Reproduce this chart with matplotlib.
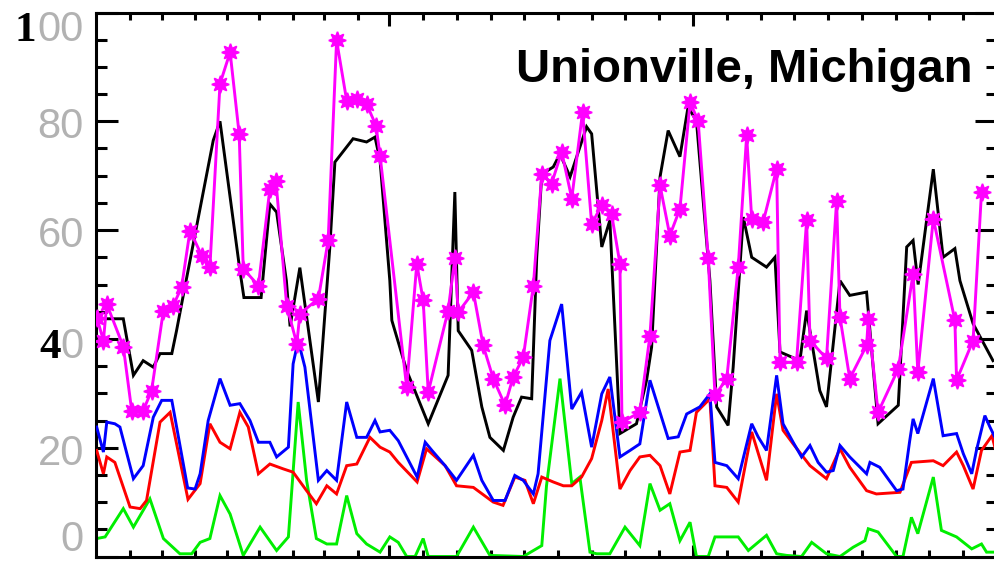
import matplotlib
matplotlib.use("Agg")
import matplotlib.pyplot as plt
from matplotlib.transforms import blended_transform_factory, ScaledTranslation

# ---- data: time in days since start of record, concentrations ----
black_t = [0.02, 0.81, 1.11, 1.40, 1.70, 1.90, 2.25, 2.39, 2.59, 3.48, 3.68, 4.27, 4.39, 4.90,
           5.16, 5.36, 5.65, 5.76, 6.05, 6.60, 6.94, 7.09, 7.63, 8.03, 8.28, 8.43, 8.72, 8.78,
           9.22, 9.86, 10.45, 10.65, 10.75, 11.15, 11.45, 11.69, 12.09, 12.38, 12.63, 12.93,
           13.08, 13.23, 13.57, 13.77, 14.07, 14.56, 14.71, 15.01, 15.25, 15.55, 16.04, 16.34,
           16.49, 16.74, 16.98, 17.33, 17.57, 17.82, 18.22, 18.42, 18.76, 18.91, 19.21, 19.46,
           19.90, 20.15, 20.30, 20.89, 21.09, 21.48, 21.68, 22.08, 22.37, 22.87, 23.21, 23.81,
           24.06, 24.25, 24.40, 24.85, 25.14, 25.49, 25.64, 26.03, 26.62]
black_v = [43.7, 43.7, 33.3, 36.0, 34.8, 37.3, 37.3, 41.5, 48.0, 76.5, 80.0, 52.6, 47.6, 47.6,
           64.8, 63.3, 50.7, 42.3, 53.1, 28.4, 56.9, 72.5, 76.8, 76.2, 77.1, 72.8, 50.7, 43.4,
           34.2, 24.4, 33.3, 67.0, 41.5, 37.9, 27.5, 21.9, 19.5, 25.6, 29.3, 29.0,
           55.0, 70.3, 71.6, 74.0, 69.8, 79.0, 77.7, 56.9, 61.8, 22.6, 24.4, 32.4,
           38.5, 69.8, 78.3, 73.5, 82.6, 80.1, 50.7, 27.5, 24.1, 34.8, 62.4, 55.0,
           53.2, 55.0, 37.6, 36.0, 45.2, 30.5, 27.5, 50.7, 48.0, 48.6, 24.4, 27.8,
           56.9, 58.1, 50.0, 71.2, 55.0, 56.6, 50.7, 42.8, 36.0]

magenta_t = [0.03, 0.22, 0.32, 0.81, 1.06, 1.40, 1.65, 2.00, 2.29, 2.54, 2.79, 3.14, 3.38,
             3.68, 3.98, 4.25, 4.37, 4.82, 5.16, 5.34, 5.66, 5.96, 6.05, 6.60, 6.89, 7.14,
             7.44, 7.74, 8.03, 8.31, 8.43, 9.22, 9.52, 9.71, 9.86, 10.45, 10.65, 10.75,
             11.20, 11.49, 11.79, 12.14, 12.38, 12.68, 12.98, 13.23, 13.52, 13.82, 14.12,
             14.44, 14.71, 15.01, 15.30, 15.55, 15.61, 16.14, 16.44, 16.74, 17.03, 17.33,
             17.63, 17.87, 18.17, 18.37, 18.72, 19.06, 19.31, 19.46, 19.80, 20.20, 20.30,
             20.79, 21.09, 21.19, 21.68, 21.98, 22.08, 22.37, 22.87, 22.92, 23.21, 23.81,
             24.25, 24.39, 24.85, 25.49, 25.54, 26.03, 26.28]
magenta_v = [43.8, 39.7, 46.4, 38.6, 26.8, 26.8, 30.5, 45.2, 46.1, 49.5, 59.9, 55.3, 53.2,
             86.9, 92.7, 77.6, 52.9, 49.8, 67.6, 69.1, 46.1, 39.1, 44.6, 47.4, 58.1, 94.9,
             83.8, 84.1, 83.2, 79.2, 73.7, 31.1, 53.8, 47.1, 30.2, 45.2, 54.8, 44.9,
             48.6, 38.8, 32.7, 27.8, 33.0, 36.6, 49.8, 70.3, 68.5, 74.4, 65.8,
             81.7, 61.1, 64.6, 63.0, 53.8, 24.7, 26.5, 40.6, 68.2, 59.0, 63.9,
             83.5, 80.1, 54.8, 29.6, 32.7, 53.2, 77.4, 62.1, 61.5, 71.3, 35.7,
             35.7, 61.8, 39.7, 36.4, 65.4, 44.0, 32.7, 38.8, 43.7, 26.5, 34.5,
             52.0, 33.9, 62.1, 43.4, 32.4, 39.7, 67.0]

blue_t = [0.02, 0.22, 0.32, 0.56, 0.71, 1.11, 1.40, 1.70, 1.95, 2.25, 2.72, 2.94, 3.09, 3.33,
          3.68, 3.98, 4.27, 4.57, 4.82, 5.16, 5.36, 5.71, 5.85, 6.00, 6.20, 6.60, 6.85, 7.14,
          7.44, 7.74, 8.03, 8.28, 8.43, 8.72, 8.97, 9.53, 9.77, 9.97, 10.36, 10.70, 11.20,
          11.45, 11.79, 12.14, 12.43, 12.68, 12.98, 13.12, 13.47, 13.82, 14.12, 14.41, 14.71,
          15.01, 15.25, 15.55, 15.85, 16.14, 16.44, 16.98, 17.28, 17.53, 17.92, 18.22, 18.37,
          18.72, 19.06, 19.46, 19.65, 19.90, 20.20, 20.39, 20.69, 20.94, 21.19, 21.43, 21.68,
          21.88, 22.08, 22.37, 22.87, 22.97, 23.26, 23.76, 23.95, 24.15, 24.25, 24.39, 24.85,
          25.14, 25.54, 25.74, 25.99, 26.13, 26.38, 26.53, 26.68]
blue_v = [23.8, 19.2, 24.7, 24.4, 23.8, 14.3, 16.7, 25.6, 28.7, 28.7, 12.6, 12.4, 15.2, 25.0,
          32.7, 27.8, 28.1, 25.0, 21.0, 21.0, 18.3, 20.1, 35.4, 39.7, 34.8, 14.0, 15.8, 14.0,
          28.4, 21.9, 21.9, 25.0, 22.9, 23.2, 21.3, 14.6, 21.0, 19.5, 16.7, 14.0, 18.6,
          14.0, 10.3, 10.3, 14.9, 14.0, 11.5, 15.2, 39.7, 46.4, 27.1, 30.2, 20.1,
          29.9, 33.0, 18.3, 19.5, 20.7, 32.4, 21.7, 22.0, 26.2, 27.5, 29.9, 17.3,
          16.7, 14.3, 24.4, 22.0, 19.5, 33.3, 24.4, 21.0, 18.3, 20.4, 17.3, 15.5,
          15.8, 20.4, 18.3, 15.2, 17.3, 16.4, 12.1, 12.4, 21.3, 25.3, 22.6, 32.7,
          22.2, 22.6, 18.9, 15.2, 19.5, 25.9, 23.8, 21.9]

red_t = [0.02, 0.22, 0.32, 0.56, 1.01, 1.31, 1.50, 1.90, 2.20, 2.73, 3.09, 3.38, 3.68, 3.98,
         4.27, 4.52, 4.82, 5.16, 5.56, 5.85, 6.25, 6.54, 6.85, 7.14, 7.44, 7.74, 8.13, 8.43,
         8.72, 8.97, 9.53, 9.81, 10.36, 10.70, 11.20, 11.79, 12.08, 12.43, 12.73, 12.98,
         13.23, 13.57, 13.87, 14.12, 14.41, 14.71, 15.01, 15.20, 15.55, 15.85, 16.14, 16.44,
         16.74, 17.03, 17.33, 17.63, 17.82, 18.22, 18.37, 18.72, 19.06, 19.46, 19.90, 20.20,
         20.39, 20.69, 20.99, 21.19, 21.68, 22.08, 22.37, 22.87, 23.16, 23.86, 24.20, 24.85,
         25.14, 25.54, 25.74, 26.03, 26.28, 26.59, 26.68]
red_v = [19.5, 15.2, 18.3, 17.3, 9.1, 8.8, 10.3, 24.7, 26.5, 10.5, 13.4, 24.4, 21.0, 19.8,
         26.5, 23.8, 15.2, 17.0, 16.1, 15.5, 12.1, 9.7, 13.0, 11.5, 16.7, 17.0, 21.9, 20.1,
         19.2, 17.3, 13.7, 19.8, 16.7, 13.0, 12.7, 10.0, 9.4, 14.6, 14.0, 9.7,
         14.6, 13.7, 13.0, 13.0, 14.6, 18.0, 25.0, 30.8, 12.4, 15.8, 18.3, 18.6,
         16.7, 11.5, 19.2, 19.5, 26.5, 29.0, 13.0, 12.7, 10.0, 22.9, 14.0, 29.9,
         23.2, 20.7, 18.3, 16.7, 14.3, 19.8, 16.4, 12.1, 11.5, 11.8, 17.3, 17.6,
         16.7, 19.2, 16.7, 12.4, 19.5, 22.2, 20.0]

green_t = [0.02, 0.27, 0.81, 1.11, 1.60, 2.00, 2.49, 2.84, 3.09, 3.38, 3.68, 3.98, 4.37, 4.87,
           5.36, 5.71, 6.00, 6.25, 6.54, 6.85, 7.14, 7.44, 7.74, 8.03, 8.43, 8.72, 8.97, 9.22,
           9.47, 9.71, 9.86, 10.70, 11.20, 11.69, 12.68, 13.23, 13.37, 13.77, 14.12, 14.36,
           14.66, 14.86, 15.25, 15.70, 16.14, 16.44, 16.74, 17.03, 17.33, 17.63, 17.82, 18.17,
           18.37, 19.06, 19.36, 19.90, 20.20, 20.50, 20.94, 21.24, 21.68, 22.08, 22.47, 22.82,
           22.92, 23.21, 23.76, 23.95, 24.20, 24.39, 24.85, 25.09, 25.54, 25.99, 26.28, 26.43,
           26.68]
green_v = [3.3, 3.6, 8.8, 5.4, 10.6, 3.3, 0.5, 0.5, 2.6, 3.3, 11.2, 7.8, 0.2, 5.4,
           1.1, 3.6, 28.4, 14.0, 3.3, 2.3, 2.3, 11.2, 4.2, 2.3, 0.8, 3.6, 2.6, 0.0,
           0.0, 3.3, 0.0, 0.0, 5.4, 0.2, 0.0, 2.0, 13.0, 32.7, 13.4, 14.6,
           0.8, 0.5, 0.5, 5.4, 2.0, 13.4, 8.5, 9.7, 2.9, 6.3, 0.0, 0.0,
           3.6, 3.6, 1.1, 3.9, 0.5, 0.2, 0.0, 2.6, 0.5, 0.0, 1.7, 2.9,
           5.1, 4.5, 0.0, 0.0, 7.2, 4.2, 14.6, 4.8, 3.6, 1.4, 2.3, 0.8,
           0.8]

title = "Unionville, Michigan"
y_ticks = [0, 20, 40, 60, 80, 100]

# ---- figure ----
W, H = 995, 561
fig = plt.figure(figsize=(W / 100, H / 100), dpi=100)
ax = fig.add_axes([96 / W, 4.5 / H, 901 / W, 544 / H])
ax.set_xlim(0, 26.74)
ax.set_ylim(0, 100)

lw = 2.1
ax.plot(green_t, green_v, color="#00ee00", lw=lw, zorder=2, solid_joinstyle="miter")
ax.plot(red_t, red_v, color="#ff0000", lw=lw, zorder=3, solid_joinstyle="miter")
ax.plot(blue_t, blue_v, color="#0000ff", lw=lw, zorder=4, solid_joinstyle="miter")
ax.plot(black_t, black_v, color="black", lw=lw, zorder=5, solid_joinstyle="miter")
ax.plot(magenta_t, magenta_v, color="#ff00ff", lw=lw, zorder=6,
        marker=(8, 1, 0), markersize=12.5, markeredgewidth=1.2,
        markeredgecolor="#ff00ff", markerfacecolor="#ff00ff")

# frame and ticks
for sp in ax.spines.values():
    sp.set_linewidth(2.2)
ax.set_yticks(y_ticks)
ax.set_yticks([v for v in range(5, 100, 5) if v % 20], minor=True)
ax.set_xticks([8.69, 17.71])
ax.set_xticks([1.01, 1.96, 2.94, 3.89, 4.84, 5.85, 6.77, 7.77,
               9.70, 10.71, 11.72, 12.70, 13.71, 14.72, 15.70, 16.71,
               18.72, 19.73, 20.71, 21.72, 22.73, 23.74, 24.72, 25.73], minor=True)
ax.tick_params(axis="y", which="major", direction="in", length=15.5, width=2.2,
               left=True, right=True, labelleft=False)
ax.tick_params(axis="y", which="minor", direction="in", length=7.8, width=2.2,
               left=True, right=True)
ax.tick_params(axis="x", which="major", direction="in", length=9, width=2.2,
               top=True, bottom=True, labelbottom=False)
ax.tick_params(axis="x", which="minor", direction="in", length=5, width=2.2,
               top=True, bottom=True)

# y labels: grey digits, with a few bold serif digits in black
base = blended_transform_factory(ax.transAxes, ax.transData)
grey = "#b2b2b2"
digit_w = 23.4  # px advance of one grey digit
drop = {0: -5.5, 20: 17, 40: 19, 60: 17, 80: 16.7, 100: 28.5}
for v in y_ticks:
    s = str(v)
    dy = -drop[v] / 100
    tr = base + ScaledTranslation(-12 / 100, dy, fig.dpi_scale_trans)
    if v in (100, 40):
        ax.text(0, v, s[1:], transform=tr, ha="right", va="baseline",
                fontsize=30, family="Liberation Sans", color=grey, clip_on=False)
        shift = 12 + (len(s) - 1) * digit_w + (1 if v == 100 else 0)
        tr2 = base + ScaledTranslation(-shift / 100, dy, fig.dpi_scale_trans)
        ax.text(0, v, s[0], transform=tr2, ha="right", va="baseline",
                fontsize=31, family="Liberation Serif", weight="bold",
                color="black", clip_on=False)
    else:
        ax.text(0, v, s, transform=tr, ha="right", va="baseline",
                fontsize=30, family="Liberation Sans", color=grey, clip_on=False)

fig.text(973 / W, 1 - 82 / H, title, ha="right", va="baseline",
         fontsize=34, family="Liberation Sans", weight="bold", color="black")

fig.savefig("out.png", dpi=100)
